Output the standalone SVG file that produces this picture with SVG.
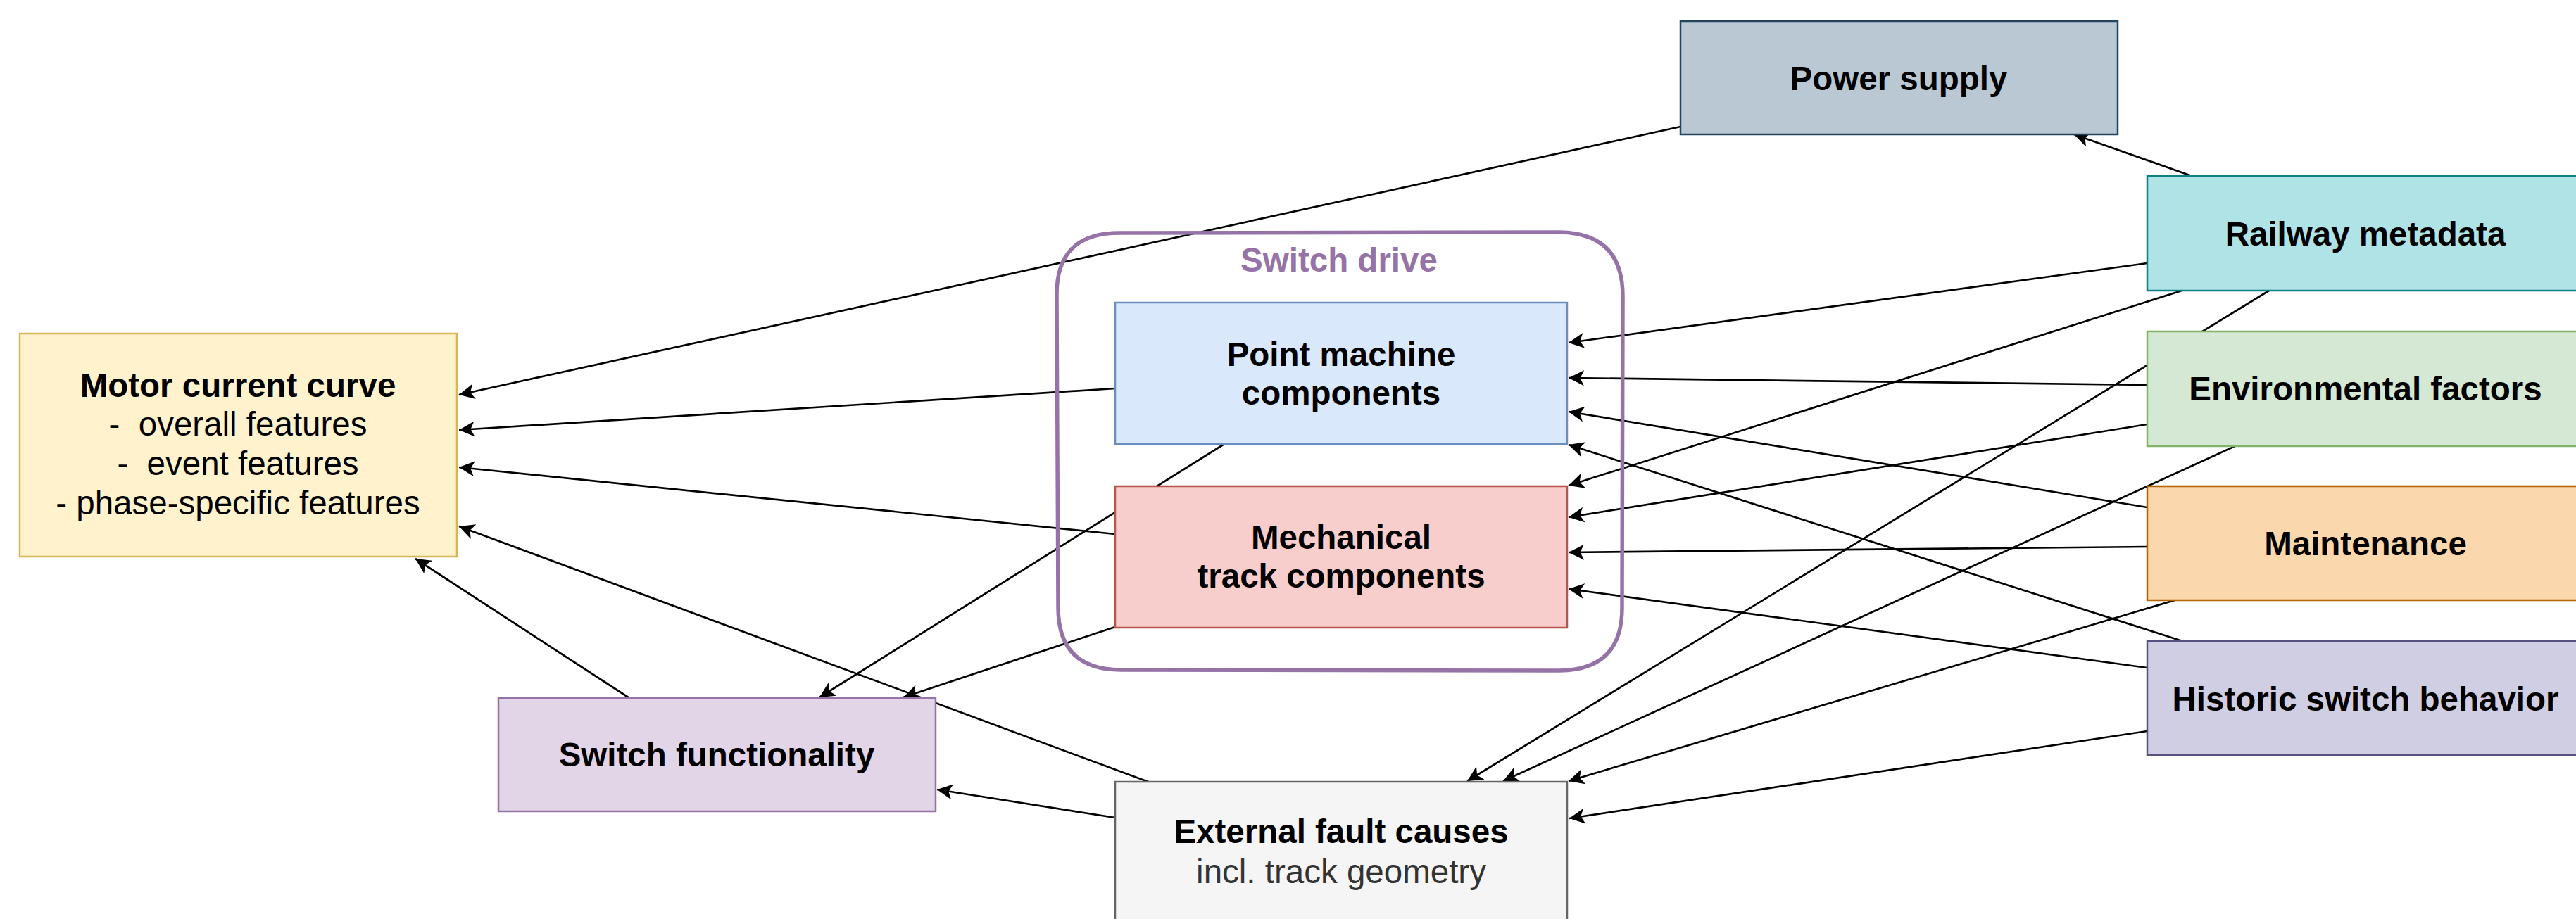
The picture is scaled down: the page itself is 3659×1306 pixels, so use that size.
<svg xmlns="http://www.w3.org/2000/svg" width="3659" height="1306" viewBox="0 0 3659 1306">
<style>
.b{stroke-width:2.5}
.t{font-family:"Liberation Sans",Arial,sans-serif;font-size:47.5px;text-anchor:middle;fill:#000}
.bd{font-weight:bold}
.e{fill:none;stroke:#000;stroke-width:2.7;marker-end:url(#arr)}
</style>
<defs>
<marker id="arr" markerUnits="userSpaceOnUse" markerWidth="24" markerHeight="24" viewBox="0 0 24 24" refX="22" refY="11" orient="auto">
<path d="M0,0 L22,11 L0,22 L5.5,11 Z" fill="#000"/>
</marker>
</defs>
<rect width="3659" height="1306" fill="#fff"/>
<g id="connectors">
<line class="e" x1="2387" y1="180" x2="652" y2="561"/>
<line class="e" x1="3113" y1="250" x2="2946" y2="191"/>
<line class="e" x1="1584" y1="552" x2="652" y2="611"/>
<line class="e" x1="1584" y1="759" x2="652" y2="664"/>
<line class="e" x1="894" y1="992" x2="590" y2="794"/>
<line class="e" x1="1631" y1="1111" x2="652" y2="748"/>
<line class="e" x1="1739" y1="631" x2="1164" y2="991"/>
<line class="e" x1="1584" y1="891" x2="1283" y2="991"/>
<line class="e" x1="1584" y1="1162" x2="1331" y2="1122"/>
<line class="e" x1="3050" y1="374" x2="2228" y2="487"/>
<line class="e" x1="3050" y1="547" x2="2228" y2="537"/>
<line class="e" x1="3050" y1="721" x2="2228" y2="585"/>
<line class="e" x1="3103" y1="912" x2="2228" y2="632"/>
<line class="e" x1="3099" y1="413" x2="2228" y2="690"/>
<line class="e" x1="3050" y1="603" x2="2228" y2="735"/>
<line class="e" x1="3050" y1="777" x2="2228" y2="785"/>
<line class="e" x1="3050" y1="949" x2="2228" y2="837"/>
<line class="e" x1="3223" y1="413" x2="2084" y2="1110"/>
<line class="e" x1="3179" y1="632" x2="2135" y2="1110"/>
<line class="e" x1="3089" y1="853" x2="2228" y2="1110"/>
<line class="e" x1="3050" y1="1039" x2="2229" y2="1163"/>
</g>
<g id="switch-drive">
<path d="M1590,331 L2215,330 Q2305,331 2305,421 L2304,862 Q2305,952 2215,953 L1592,952 Q1503,952 1503,863 L1501,420 Q1500,331 1590,331 Z" fill="none" stroke="#9673a6" stroke-width="5.5"/>
<text class="t bd" x="1902" y="386" style="fill:#9673a6">Switch drive</text>
</g>
<g id="power-supply">
<rect x="2387" y="30" width="621" height="161" fill="#bac8d3" stroke="#23445d" class="b"/>
<text class="t bd" x="2697" y="128">Power supply</text>
</g>
<g id="railway-metadata">
<rect x="3050" y="250" width="621" height="163" fill="#b0e3e6" stroke="#0e8088" class="b"/>
<text class="t bd" x="3360" y="349">Railway metadata</text>
</g>
<g id="environmental-factors">
<rect x="3050" y="471" width="621" height="163" fill="#d5e8d4" stroke="#82b366" class="b"/>
<text class="t bd" x="3360" y="569">Environmental factors</text>
</g>
<g id="maintenance">
<rect x="3050" y="691" width="621" height="162" fill="#fad7ac" stroke="#b46504" class="b"/>
<text class="t bd" x="3360" y="789">Maintenance</text>
</g>
<g id="historic-switch-behavior">
<rect x="3050" y="911" width="621" height="162" fill="#d0cee2" stroke="#56517e" class="b"/>
<text class="t bd" x="3360" y="1010">Historic switch behavior</text>
</g>
<g id="motor-current-curve">
<rect x="28" y="474" width="621" height="317" fill="#fff2cc" stroke="#d6b656" class="b"/>
<text class="t" x="338" y="564" style="white-space:pre"><tspan class="bd">Motor current curve</tspan><tspan x="338" y="619">-  overall features</tspan><tspan x="338" y="675">-  event features</tspan><tspan x="338" y="731">- phase-specific features</tspan></text>
</g>
<g id="point-machine-components">
<rect x="1584" y="430" width="642" height="201" fill="#dae8fc" stroke="#6c8ebf" class="b"/>
<text class="t bd" x="1905" y="520">Point machine<tspan x="1905" y="575">components</tspan></text>
</g>
<g id="mechanical-track-components">
<rect x="1584" y="691" width="642" height="201" fill="#f8cecc" stroke="#b85450" class="b"/>
<text class="t bd" x="1905" y="780">Mechanical<tspan x="1905" y="835">track components</tspan></text>
</g>
<g id="switch-functionality">
<rect x="708" y="992" width="621" height="161" fill="#e1d5e7" stroke="#9673a6" class="b"/>
<text class="t bd" x="1018" y="1089">Switch functionality</text>
</g>
<g id="external-fault-causes">
<rect x="1584" y="1111" width="642" height="210" fill="#f5f5f5" stroke="#666666" class="b"/>
<text class="t" x="1905" y="1198" style="fill:#333333"><tspan class="bd" style="fill:#000">External fault causes</tspan><tspan x="1905" y="1255">incl. track geometry</tspan></text>
</g>
</svg>
